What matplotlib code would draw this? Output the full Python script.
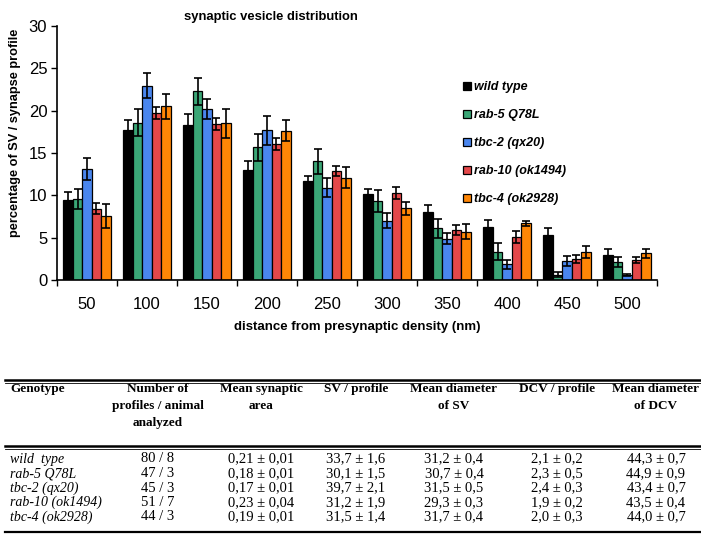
import matplotlib
matplotlib.use("Agg")
import matplotlib.pyplot as plt
import numpy as np
from matplotlib.lines import Line2D

# ---------------- data ----------------
distances = ["50", "100", "150", "200", "250", "300", "350", "400", "450", "500"]
genotypes = ["wild type", "rab-5 Q78L", "tbc-2 (qx20)", "rab-10 (ok1494)", "tbc-4 (ok2928)"]
colors = ["#000000", "#3aa676", "#4a86ee", "#e4484a", "#ff8606"]

wild_type = [9.45, 17.7, 18.3, 13.0, 11.7, 10.1, 8.05, 6.3, 5.3, 3.0]
rab5 = [9.6, 18.6, 22.3, 15.7, 14.0, 9.3, 6.1, 3.35, 0.6, 2.1]
tbc2 = [13.15, 22.95, 20.2, 17.7, 10.9, 7.0, 4.9, 1.85, 2.25, 0.6]
rab10 = [8.4, 19.7, 18.4, 16.1, 12.9, 10.3, 5.9, 5.1, 2.45, 2.35]
tbc4 = [7.55, 20.5, 18.5, 17.65, 12.1, 8.45, 5.7, 6.7, 3.35, 3.15]

wild_type_err = [0.9, 1.2, 1.3, 1.1, 0.6, 0.7, 0.8, 0.8, 0.9, 0.7]
rab5_err = [1.2, 1.6, 1.6, 1.6, 1.5, 1.3, 1.1, 1.0, 0.3, 0.6]
tbc2_err = [1.3, 1.5, 1.2, 1.7, 1.1, 0.9, 0.6, 0.5, 0.6, 0.15]
rab10_err = [0.65, 0.7, 0.7, 0.7, 0.6, 0.7, 0.6, 0.7, 0.45, 0.4]
tbc4_err = [1.4, 1.5, 1.7, 1.2, 1.2, 0.8, 0.9, 0.3, 0.7, 0.5]

series = [wild_type, rab5, tbc2, rab10, tbc4]
errors = [wild_type_err, rab5_err, tbc2_err, rab10_err, tbc4_err]

y_ticks = [0, 5, 10, 15, 20, 25, 30]

# table
table_header = ["Genotype", "Number of\nprofiles / animal\nanalyzed", "Mean synaptic\narea",
                "SV / profile", "Mean diameter\nof SV", "DCV / profile", "Mean diameter\nof DCV"]
col_genotype = ["wild  type", "rab-5 Q78L", "tbc-2 (qx20)", "rab-10 (ok1494)", "tbc-4 (ok2928)"]
col_profiles = ["80 / 8", "47 / 3", "45 / 3", "51 / 7", "44 / 3"]
col_area = ["0,21 ± 0,01", "0,18 ± 0,01", "0,17 ± 0,01", "0,23 ± 0,04", "0,19 ± 0,01"]
col_sv = ["33,7 ± 1,6", "30,1 ± 1,5", "39,7 ± 2,1", "31,2 ± 1,9", "31,5 ± 1,4"]
col_sv_diam = ["31,2 ± 0,4", "30,7 ± 0,4", "31,5 ± 0,5", "29,3 ± 0,3", "31,7 ± 0,4"]
col_dcv = ["2,1 ± 0,2", "2,3 ± 0,5", "2,4 ± 0,3", "1,9 ± 0,2", "2,0 ± 0,3"]
col_dcv_diam = ["44,3 ± 0,7", "44,9 ± 0,9", "43,4 ± 0,7", "43,5 ± 0,4", "44,0 ± 0,7"]

# ---------------- figure ----------------
W, H = 701, 534
fig = plt.figure(figsize=(W / 100, H / 100), dpi=100)
plt.rcParams["font.family"] = ["Liberation Sans", "DejaVu Sans"]

def fx(px):
    return px / W

def fy(py):
    return 1 - py / H

ax = fig.add_axes([fx(57), fy(280), fx(657) - fx(57), fy(26) - fy(280)])

x = np.arange(len(distances))
bw = 0.157
for j, (vals, errs, c) in enumerate(zip(series, errors, colors)):
    ax.bar(x + (j - 2) * bw, vals, width=bw, color=c, edgecolor="black",
           linewidth=0.9, label=genotypes[j], zorder=2,
           yerr=errs, error_kw=dict(ecolor="black", elinewidth=1.2, capsize=3, capthick=1.2))

ax.set_xlim(-0.5, len(distances) - 0.5)
ax.set_ylim(0, 30)
ax.set_yticks(y_ticks)
ax.set_yticklabels([str(t) for t in y_ticks], fontsize=12)
ax.set_xticks(x)
ax.set_xticklabels(distances, fontsize=12)
ax.tick_params(axis="x", which="major", length=0, pad=12)
ax.set_xticks(np.arange(-0.5, len(distances) + 0.5, 1.0), minor=True)
ax.tick_params(axis="x", which="minor", length=4, width=1, direction="out")
ax.tick_params(axis="y", length=4, width=1, direction="out", pad=3)
for s in ["top", "right"]:
    ax.spines[s].set_visible(False)
for s in ["left", "bottom"]:
    ax.spines[s].set_linewidth(1.2)

ax.set_xlabel("distance from presynaptic density (nm)", fontsize=9.5, fontweight="bold", labelpad=7)
ax.set_ylabel("percentage of SV / synapse profile", fontsize=9.2, fontweight="bold")
ax.yaxis.label.set_va("center")
ax.yaxis.set_label_coords((15 - 57) / 600, (280 - 133) / 254)

fig.text(fx(271), fy(17), "synaptic vesicle distribution", fontsize=9.4, fontweight="bold",
         ha="center", va="center")

leg = ax.legend(loc="upper left", bbox_to_anchor=(fx(452), fy(70)), bbox_transform=fig.transFigure,
                frameon=False, handlelength=0.6, handleheight=0.6, handletextpad=0.3,
                labelspacing=1.28, prop=dict(size=9, weight="bold", style="italic"))

# ---------------- table ----------------
tfont = ["Liberation Serif", "DejaVu Serif"]
col_x = [10, 158, 261, 356, 454, 557, 656]
for k, (hx, txt) in enumerate(zip(col_x, table_header)):
    fig.text(fx(hx), fy(383), txt, fontsize=9.5, fontweight="bold", family=tfont,
             ha="left" if k == 0 else "center", va="top", linespacing=1.55)

cols = [col_genotype, col_profiles, col_area, col_sv, col_sv_diam, col_dcv, col_dcv_diam]
row_y = [459, 473.5, 488, 502.5, 517]
for k, (cx, col) in enumerate(zip(col_x, cols)):
    for ry, val in zip(row_y, col):
        fig.text(fx(cx), fy(ry), val, fontsize=10 if k == 0 else 10.5, family=tfont,
                 style="italic" if k == 0 else "normal",
                 ha="left" if k == 0 else "center", va="center")

for yy, lw in [(380, 1.8), (382.5, 0.6), (446, 1.8), (448.5, 0.6), (532, 1.6)]:
    fig.add_artist(Line2D([fx(5), fx(701)], [fy(yy), fy(yy)], color="black", linewidth=lw))

fig.savefig("out.png", dpi=100)
